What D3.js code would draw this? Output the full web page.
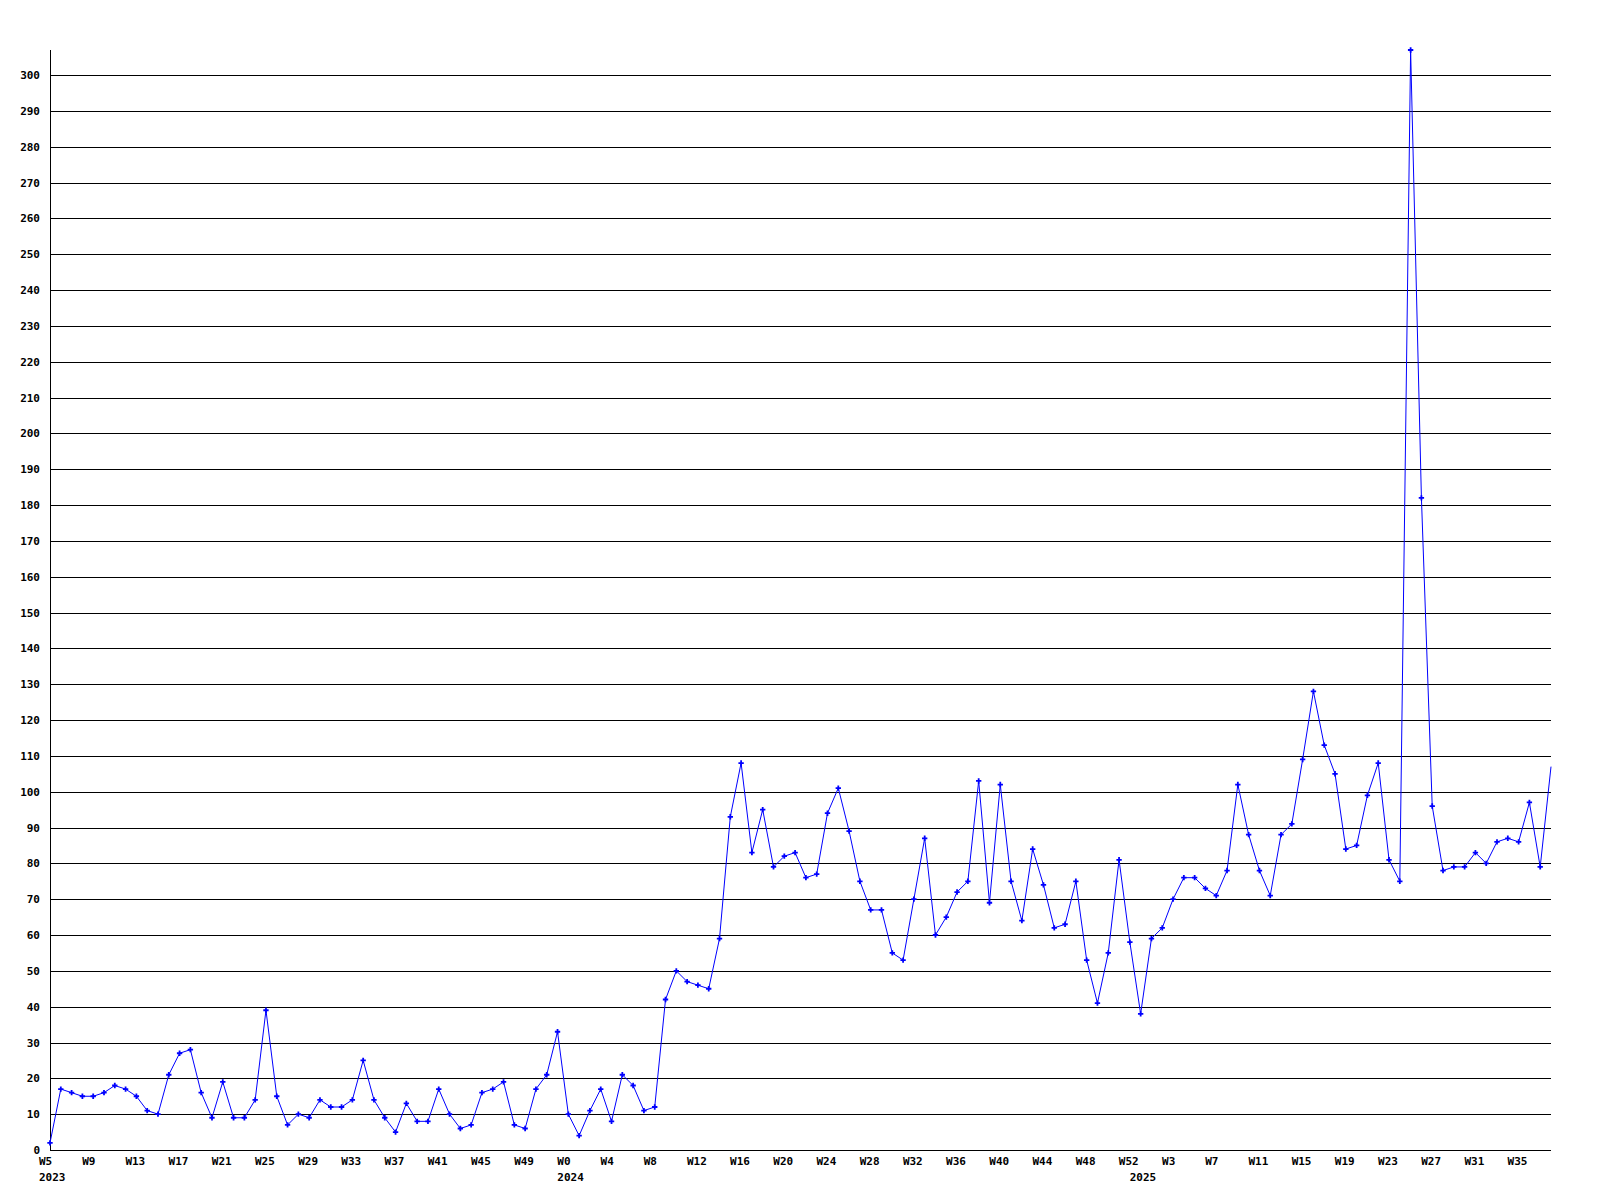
<!DOCTYPE html>
<html>
<head>
<meta charset="utf-8">
<script src="https://cdn.jsdelivr.net/npm/d3@7"></script>
<style>
  html, body { margin: 0; padding: 0; background: #fff; }
  text { font-family: "DejaVu Sans Mono", "Liberation Mono", monospace; font-weight: bold; font-size: 11px; fill: #000; }
</style>
</head>
<body>
<svg id="chart" width="1600" height="1200"></svg>
<script>
// ---- data ----
const values2023 = [2,17,16,15,15,16,18,17,15,11,10,21,27,28,16,9,19,9,9,14,39,15,7,10,9,14,12,12,14,25,14,9,5,13,8,8,17,10,6,7,16,17,19,7,6,17,21,33];
const values2024 = [10,4,11,17,8,21,18,11,12,42,50,47,46,45,59,93,108,83,95,79,82,83,76,77,94,101,89,75,67,67,55,53,70,87,60,65,72,75,103,69,102,75,64,84,74,62,63,75,53,41,55,81,58];
const values2025 = [38,59,62,70,76,76,73,71,78,102,88,78,71,88,91,109,128,113,105,84,85,99,108,81,75,307,182,96,78,79,79,83,80,86,87,86,97,79,107];
const weekTickLabels = ["W5","W9","W13","W17","W21","W25","W29","W33","W37","W41","W45","W49",
  "W0","W4","W8","W12","W16","W20","W24","W28","W32","W36","W40","W44","W48","W52",
  "W3","W7","W11","W15","W19","W23","W27","W31","W35"];
const tickEvery = 4;
const yearLabels = ["2023","2024","2025"];
const yMaxTick = 300, yTickStep = 10;

(function () {
const values = values2023.concat(values2024, values2025);
const yearStart = [0, values2023.length, values2023.length + values2024.length];

// ---- layout ----
const mLeft = 50, mRight = 1551, mTop = 50, mBottom = 1150;
const svg = d3.select("#chart");

const x = d3.scaleLinear().domain([0, values.length - 1]).range([mLeft, mRight]);
const y = d3.scaleLinear().domain([0, d3.max(values)]).range([mBottom, mTop]);

const yTicks = d3.range(0, yMaxTick + 1, yTickStep);

// grid lines
svg.append("g").selectAll("line").data(yTicks).join("line")
  .attr("x1", mLeft).attr("x2", mRight)
  .attr("y1", d => Math.round(y(d)) + 0.5).attr("y2", d => Math.round(y(d)) + 0.5)
  .attr("stroke", "#000").attr("stroke-width", 1).attr("shape-rendering", "crispEdges");

// y axis line
svg.append("line")
  .attr("x1", mLeft + 0.5).attr("x2", mLeft + 0.5).attr("y1", mTop).attr("y2", mBottom)
  .attr("stroke", "#000").attr("stroke-width", 1).attr("shape-rendering", "crispEdges");

// y labels
svg.append("g").selectAll("text").data(yTicks).join("text")
  .attr("x", 40).attr("y", d => Math.round(y(d)) + 4)
  .attr("text-anchor", "end")
  .text(d => d);

// x tick labels
svg.append("g").selectAll("text").data(weekTickLabels).join("text")
  .attr("x", (d, i) => x(i * tickEvery) - 11)
  .attr("y", 1165)
  .attr("text-anchor", "start")
  .text(d => d);

// year labels
svg.append("g").selectAll("text").data(yearLabels).join("text")
  .attr("x", (d, i) => x(yearStart[i]) - 11)
  .attr("y", 1181)
  .attr("text-anchor", "start")
  .text(d => d);

// data line
const line = d3.line().x((d, i) => x(i)).y(d => y(d));
svg.append("path").datum(values)
  .attr("d", line)
  .attr("fill", "none").attr("stroke", "#0000ff").attr("stroke-width", 1);

// markers (last point sits on the plot edge without a marker)
const sym = d3.symbol().type(d3.symbolCross).size(16);
svg.append("g").selectAll("path").data(values.slice(0, values.length - 1)).join("path")
  .attr("transform", (d, i) => `translate(${x(i)},${y(d)})`)
  .attr("d", sym)
  .attr("fill", "#0000ff");
})();
</script>
</body>
</html>
